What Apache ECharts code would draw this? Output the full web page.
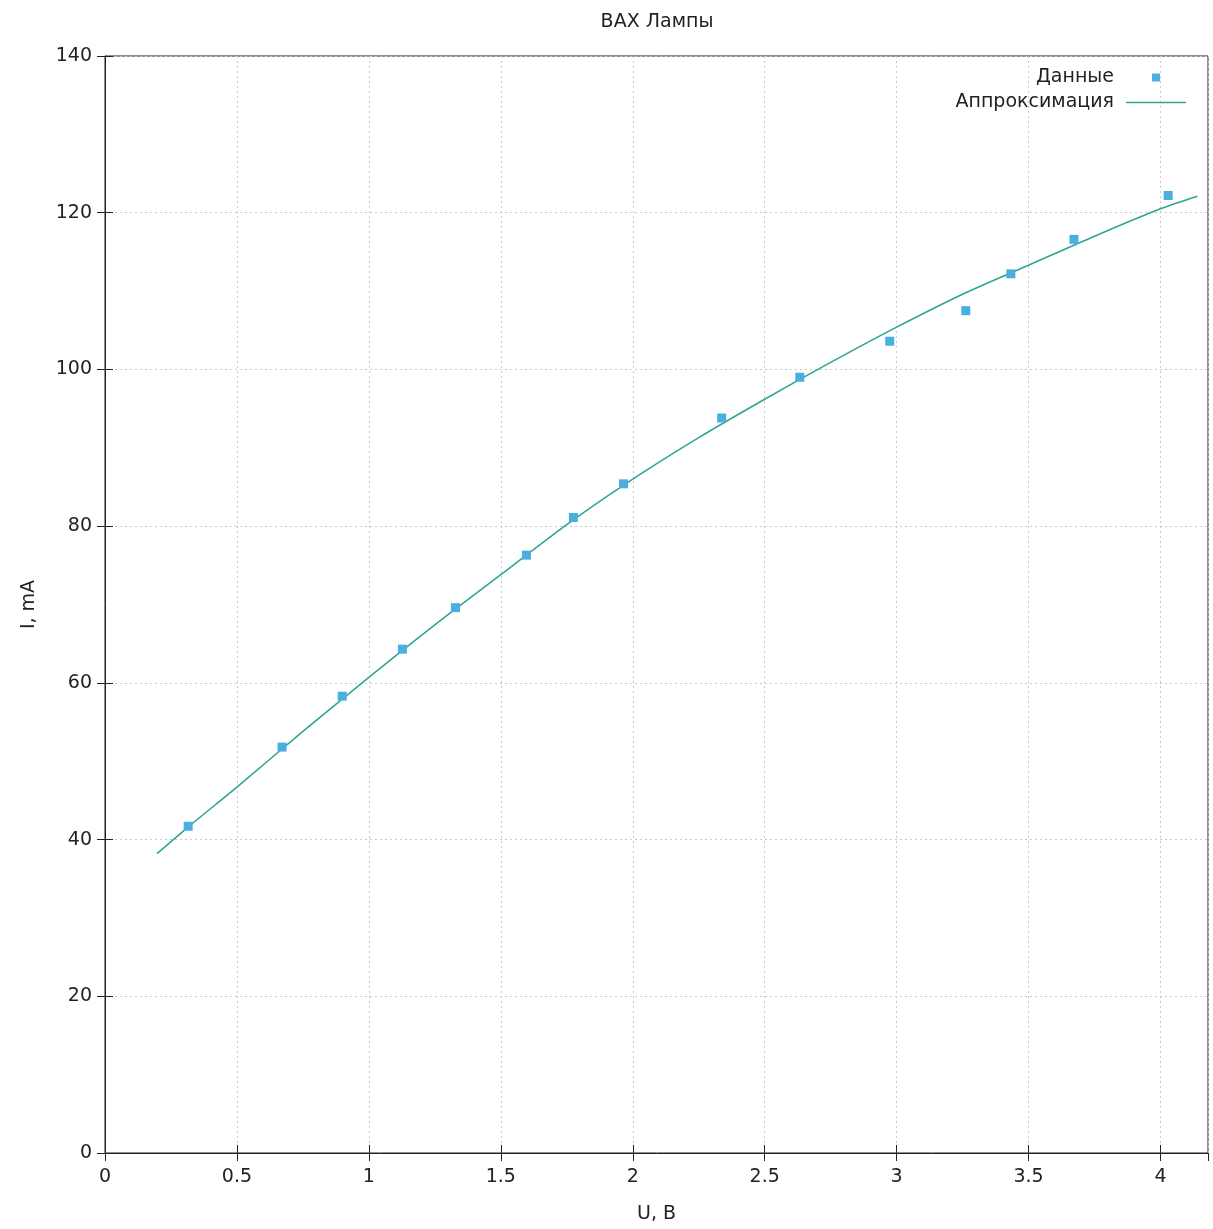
<!DOCTYPE html>
<html>
<head>
<meta charset="utf-8">
<script src="https://cdn.jsdelivr.net/npm/echarts@6/dist/echarts.min.js"></script>
<style>
  html, body { margin: 0; padding: 0; background: #fff; }
  #chart { width: 1213px; height: 1229px; }
</style>
</head>
<body>
<div id="chart"></div>
<script>
// measured points
const dataU = [0.315, 0.671, 0.899, 1.127, 1.328, 1.597, 1.775, 1.965, 2.337, 2.633, 2.974, 3.262, 3.433, 3.672, 4.029]
const dataI = [41.7, 51.8, 58.3, 64.3, 69.6, 76.3, 81.1, 85.4, 93.8, 99.0, 103.6, 107.5, 112.2, 116.6, 122.2]

// approximation curve
const fitU = [0.197, 0.315, 0.5, 0.75, 1.0, 1.25, 1.5, 1.75, 2.0, 2.25, 2.5, 2.75, 3.0, 3.25, 3.5, 3.75, 4.0, 4.14]
const fitI = [38.2, 41.6, 46.7, 53.8, 60.7, 67.4, 73.8, 80.2, 86.0, 91.3, 96.2, 100.9, 105.4, 109.6, 113.3, 117.0, 120.5, 122.1]

const font = 'DejaVu Sans'
const fontSize = 19
const textColor = '#222'
const pointColor = '#4baee0'
const lineColor = '#2fa594'

const chart = echarts.init(document.getElementById('chart'), null, { renderer: 'canvas' })

const pairs = (xs, ys) => xs.map((x, i) => [x, ys[i]])

// mirrored axes for the gnuplot-style frame ticks
const tickStyle = { show: true, inside: true, length: 8, lineStyle: { color: '#222', width: 1 } }
const gridLine = { show: true, lineStyle: { color: '#c8c8c8', type: [2, 3], width: 1 } }

chart.setOption({
  animation: false,
  backgroundColor: '#fff',
  title: {
    text: 'ВАХ Лампы',
    left: 652,
    top: 8,
    textAlign: 'center',
    textStyle: { fontFamily: font, fontSize: fontSize, fontWeight: 'normal', color: textColor }
  },
  legend: {
    right: 22,
    top: 63,
    orient: 'vertical',
    align: 'right',
    itemWidth: 60,
    itemHeight: 8,
    itemGap: 6,
    symbolKeepAspect: true,
    textStyle: { fontFamily: font, fontSize: fontSize, color: textColor, padding: [0, 7, 0, 0] },
    data: [
      { name: 'Данные', icon: 'path://M0,0h10v10h-10z' },
      { name: 'Аппроксимация', icon: 'path://M0,0h120v3h-120z' }
    ]
  },
  grid: {
    left: 105, right: 5, top: 56, bottom: 74,
    show: true, borderColor: '#222', borderWidth: 1, backgroundColor: 'transparent'
  },
  xAxis: [{
    type: 'value',
    min: 0, max: 4.18, interval: 0.5,
    name: 'U, В',
    nameLocation: 'middle',
    nameGap: 52,
    nameTextStyle: { fontFamily: font, fontSize: fontSize, color: textColor },
    axisLine: { show: true, onZero: false, lineStyle: { color: '#222' } },
    axisTick: tickStyle,
    axisLabel: { fontFamily: font, fontSize: fontSize, color: textColor, margin: 15,
      showMaxLabel: false, formatter: v => String(v) },
    splitLine: gridLine
  }, {
    type: 'value', position: 'top',
    min: 0, max: 4.18, interval: 0.5,
    axisLine: { show: false }, axisTick: tickStyle,
    axisLabel: { show: false }, splitLine: { show: false }
  }],
  yAxis: [{
    type: 'value',
    min: 0, max: 140, interval: 20,
    name: 'I, mA',
    nameLocation: 'middle',
    nameGap: 66,
    nameTextStyle: { fontFamily: font, fontSize: fontSize, color: textColor },
    axisLine: { show: true, onZero: false, lineStyle: { color: '#222' } },
    axisTick: tickStyle,
    axisLabel: { fontFamily: font, fontSize: fontSize, color: textColor, margin: 13 },
    splitLine: gridLine
  }, {
    type: 'value', position: 'right',
    min: 0, max: 140, interval: 20,
    axisLine: { show: false }, axisTick: tickStyle,
    axisLabel: { show: false }, splitLine: { show: false }
  }],
  series: [{
    name: 'Данные',
    type: 'scatter',
    symbol: 'rect',
    symbolSize: 9,
    itemStyle: { color: pointColor, opacity: 1 },
    data: pairs(dataU, dataI),
    z: 3
  }, {
    name: 'Аппроксимация',
    type: 'line',
    symbol: 'none',
    smooth: 0.3,
    lineStyle: { color: lineColor, width: 1.6 },
    itemStyle: { color: lineColor },
    data: pairs(fitU, fitI),
    z: 2
  }]
})
</script>
</body>
</html>
